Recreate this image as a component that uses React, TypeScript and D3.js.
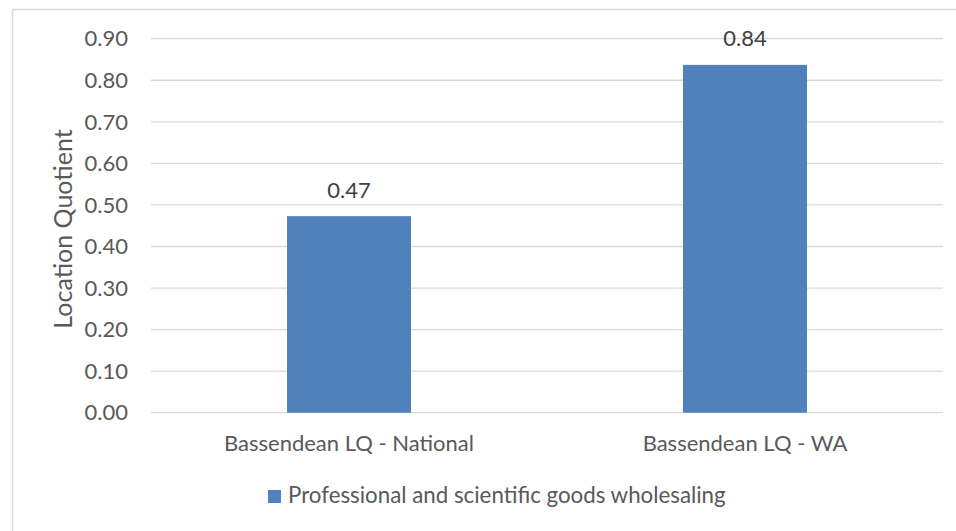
import React from "react";
import * as d3 from "d3";

const categories = ["Bassendean LQ - National", "Bassendean LQ - WA"];
const values = [0.473, 0.837];
const valueLabels = ["0.47", "0.84"];
const yTicks = [0, 0.1, 0.2, 0.3, 0.4, 0.5, 0.6, 0.7, 0.8, 0.9];
const seriesName = "Professional and scientific goods wholesaling";
const yTitle = "Location Quotient";

const W = 956;
const H = 531;
const FONT = "Lato, 'Open Sans', sans-serif";
const TEXT = "#595959";
const BAR = "#4f81bd";

export default function App() {
  const left = 151, right = 943, top = 38.7, bottom = 412.7;
  const x = d3.scaleBand<string>().domain(categories).range([left, right]).padding(0);
  const y = d3.scaleLinear().domain([0, 0.9]).range([bottom, top]);
  const bw = x.bandwidth() * 0.313;

  return (
    <svg width={W} height={H} style={{ position: "absolute", left: 0, top: 0, background: "#fff" }}>
      <rect x={0} y={0} width={W} height={H} fill="#fff" />
      <path d={`M12.5,${H} V9.5 H${W}`} fill="none" stroke="#d9d9d9" strokeWidth={1.5} />
      {yTicks.map((t) => (
        <g key={t}>
          <line x1={left} x2={right} y1={y(t)} y2={y(t)} stroke="#d9d9d9" strokeWidth={1.3} />
          <text x={128} y={y(t)} dy="0.35em" textAnchor="end" fontFamily={FONT} fontSize={22} fill={TEXT}>
            {t.toFixed(2)}
          </text>
        </g>
      ))}
      {categories.map((c, i) => {
        const cx = (x(c) as number) + x.bandwidth() / 2;
        return (
          <g key={c}>
            <rect x={cx - bw / 2} y={y(values[i])} width={bw} height={bottom - y(values[i])} fill={BAR} />
            <text x={cx} y={y(values[i]) - 18.5} textAnchor="middle" fontFamily={FONT} fontSize={22} fill="#404040">
              {valueLabels[i]}
            </text>
            <text x={cx} y={451} textAnchor="middle" fontFamily={FONT} fontSize={22} fill={TEXT}>
              {c}
            </text>
          </g>
        );
      })}
      <text
        transform={`translate(72,229) rotate(-90)`}
        textAnchor="middle"
        fontFamily={FONT}
        fontSize={25}
        fill={TEXT}
      >
        {yTitle}
      </text>
      <rect x={268} y={490} width={13} height={13} fill={BAR} />
      <text x={288} y={503} fontFamily={FONT} fontSize={22.3} fill={TEXT}>
        {seriesName}
      </text>
    </svg>
  );
}
